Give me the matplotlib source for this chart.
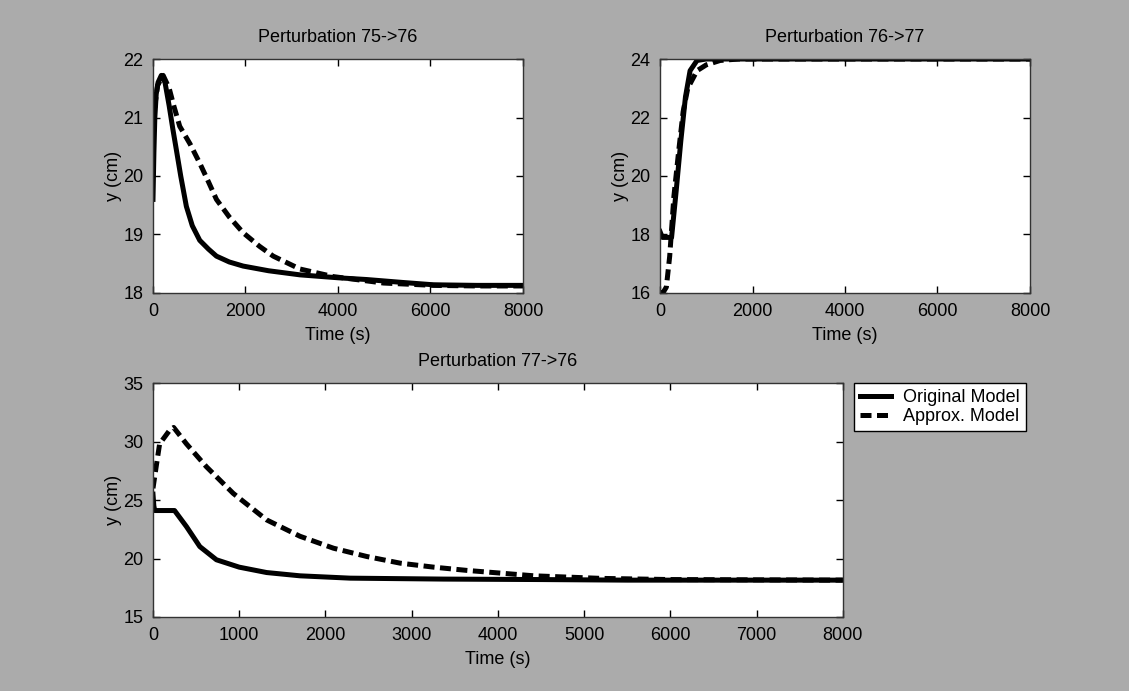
import matplotlib
matplotlib.use("Agg")
import matplotlib.pyplot as plt

# Perturbation 75->76
t1_orig = [0, 20, 40, 70, 110, 180, 260, 350, 430, 505, 600, 722, 850, 1011, 1200, 1372, 1650, 1950, 2500, 3177, 4000, 4620, 5400, 6065, 7000, 8000]
y1_orig = [19.6, 20.4, 21.0, 21.4, 21.6, 21.72, 21.6, 21.2, 20.8, 20.45, 20.0, 19.48, 19.15, 18.9, 18.75, 18.63, 18.53, 18.46, 18.38, 18.31, 18.26, 18.23, 18.18, 18.14, 18.13, 18.13]
t1_apx = [0, 40, 100, 220, 350, 450, 578, 800, 1011, 1200, 1372, 1650, 1950, 2300, 2600, 3177, 3900, 4985, 6065, 7000, 8000]
y1_apx = [20.6, 21.2, 21.55, 21.72, 21.5, 21.2, 20.85, 20.55, 20.22, 19.9, 19.6, 19.3, 19.03, 18.8, 18.63, 18.41, 18.28, 18.17, 18.13, 18.12, 18.12]

# Perturbation 76->77
t2_orig = [0, 50, 250, 350, 450, 550, 650, 800, 1000, 8000]
y2_orig = [18.1, 17.9, 17.9, 19.5, 21.2, 22.7, 23.6, 23.95, 24.0, 24.0]
t2_apx = [0, 60, 137, 209, 300, 400, 500, 600, 800, 1000, 1300, 1700, 8000]
y2_apx = [16.0, 16.0, 16.2, 17.25, 19.3, 20.8, 22.2, 23.0, 23.6, 23.8, 23.95, 24.0, 24.0]

# Perturbation 77->76
t3_orig = [0, 10, 20, 250, 388, 543, 736, 1000, 1318, 1705, 2287, 3372, 4500, 5500, 8000]
y3_orig = [25.5, 24.5, 24.1, 24.1, 22.73, 21.02, 19.89, 19.26, 18.8, 18.52, 18.32, 18.24, 18.2, 18.15, 18.15]
t3_apx = [0, 40, 77, 194, 240, 388, 620, 930, 1318, 1705, 2093, 2480, 2868, 3256, 3643, 4418, 5200, 6000, 8000]
y3_apx = [26.0, 28.0, 29.8, 30.97, 31.2, 29.8, 27.84, 25.57, 23.3, 21.9, 20.88, 20.17, 19.6, 19.26, 18.98, 18.52, 18.3, 18.2, 18.15]

plt.rcParams['font.family'] = ['Liberation Sans', 'DejaVu Sans']
plt.rcParams['font.size'] = 13

bg = '#ababab'
fig = plt.figure(figsize=(11.29, 6.91), dpi=100, facecolor=bg)

dash = (2.2, 1.1)
lw = 3.6


def style(ax, title, xticks, yticks, ylim):
    ax.set_xlim(0, 8000)
    ax.set_ylim(*ylim)
    ax.set_xticks(xticks)
    ax.set_yticks(yticks)
    ax.tick_params(direction='in', top=True, right=True, length=5, width=1, pad=7, colors='black')
    for s in ax.spines.values():
        s.set_color('#333333')
        s.set_linewidth(1)
    ax.set_title(title, pad=12, fontsize=13)
    ax.set_xlabel('Time (s)', labelpad=5)
    ax.set_ylabel('y (cm)', labelpad=1)


ax1 = fig.add_axes([0.1355, 0.576, 0.3277, 0.3386])
ax1.plot(t1_orig, y1_orig, color='black', lw=lw)
ax1.plot(t1_apx, y1_apx, color='black', lw=lw, dashes=dash)
style(ax1, 'Perturbation 75->76', [0, 2000, 4000, 6000, 8000], [18, 19, 20, 21, 22], (18, 22))

ax2 = fig.add_axes([0.5846, 0.576, 0.3277, 0.3386])
ax2.plot(t2_orig, y2_orig, color='black', lw=lw)
ax2.plot(t2_apx, y2_apx, color='black', lw=lw, dashes=dash)
style(ax2, 'Perturbation 76->77', [0, 2000, 4000, 6000, 8000], [16, 18, 20, 22, 24], (16, 24))

ax3 = fig.add_axes([0.1355, 0.1071, 0.611, 0.3386])
l1, = ax3.plot(t3_orig, y3_orig, color='black', lw=lw, label='Original Model')
l2, = ax3.plot(t3_apx, y3_apx, color='black', lw=lw, dashes=dash, label='Approx. Model')
style(ax3, 'Perturbation 77->76', list(range(0, 8001, 1000)), [15, 20, 25, 30, 35], (15, 35))

leg = fig.legend(handles=[l1, l2], loc='upper left', bbox_to_anchor=(854 / 1129, 1 - 383 / 691),
                 frameon=True, fancybox=False, handlelength=1.7, borderpad=0.35,
                 labelspacing=0.1, handletextpad=0.65, borderaxespad=0)
leg.get_frame().set_edgecolor('black')
leg.get_frame().set_linewidth(1)
leg.get_frame().set_facecolor('white')
leg.get_frame().set_alpha(1)

fig.savefig('out.png', dpi=100, facecolor=bg)
